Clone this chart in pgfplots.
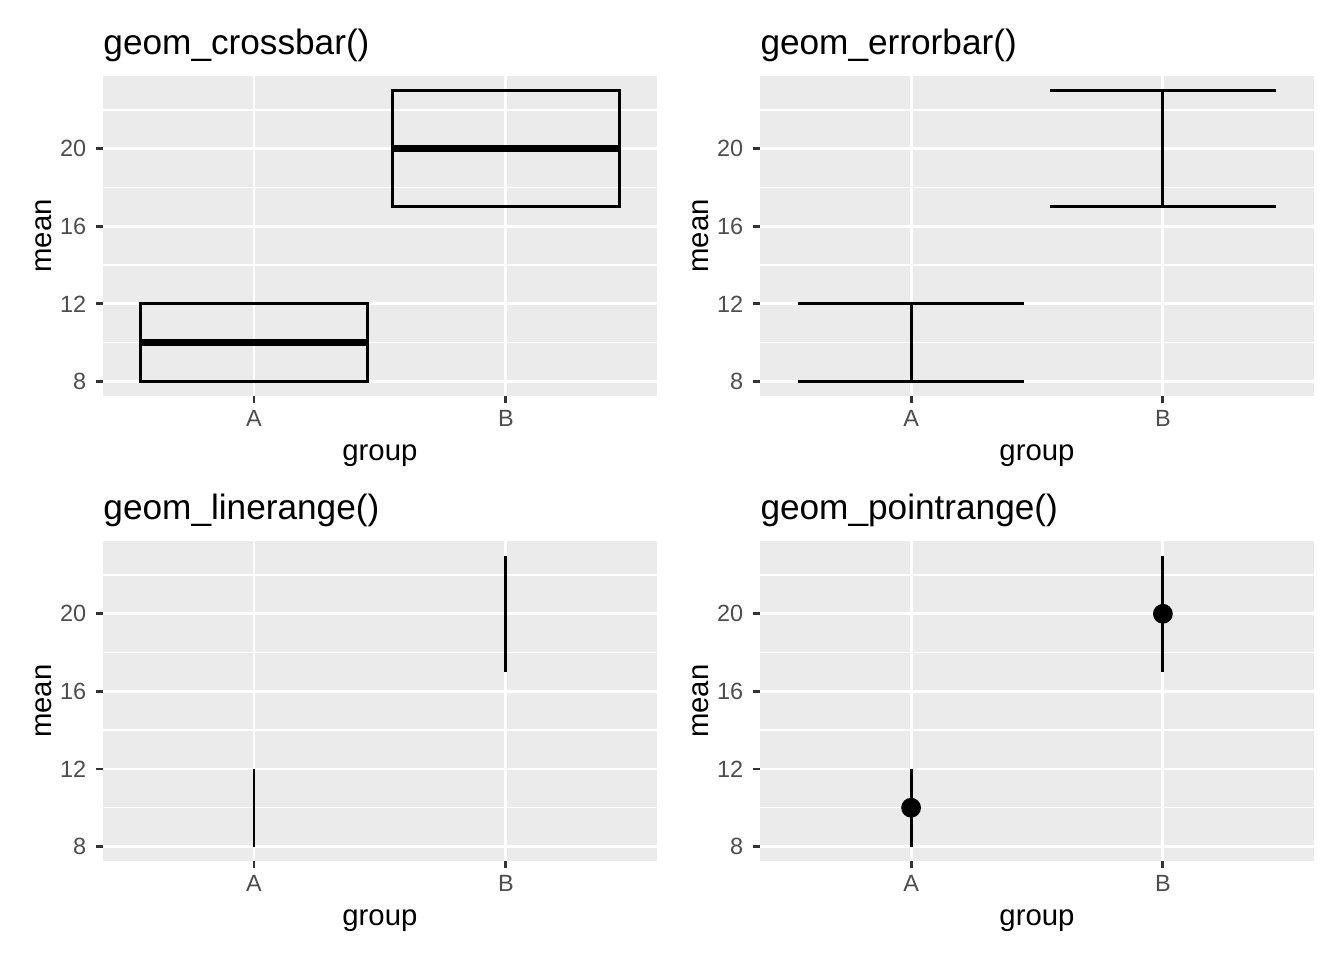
\documentclass[border=0pt]{standalone}
\usepackage{fontspec}
\setmainfont{Liberation Sans}
\usepackage{pgfplots}
\pgfplotsset{compat=1.18}

\definecolor{ggbg}{HTML}{EBEBEB}
\definecolor{gg20}{HTML}{333333}
\definecolor{gg30}{HTML}{4D4D4D}

\pgfplotsset{
  every axis title shift=0pt,
  ggpanel/.style={
    scale only axis, width=207.75pt, height=120pt,
    anchor=north west,
    xmin=0.4, xmax=2.6, ymin=7.25, ymax=23.75,
    axis background/.style={fill=ggbg},
    axis line style={draw=none},
    xtick={1,2}, xticklabels={A,B},
    ytick={8,12,16,20}, minor ytick={10,14,18,22},
    grid=both,
    major grid style={white, line width=1.07pt},
    minor grid style={white, line width=0.53pt},
    tick align=outside, tick pos=left,
    major tick length=2.75pt, minor tick length=0pt,
    tick style={gg20, line width=1.07pt},
    ticklabel style={font=\fontsize{8.8}{10}\selectfont, text=gg30},
    xticklabel style={yshift=0.75pt},
    /pgf/number format/assume math mode=true,
    xlabel=group, ylabel=mean,
    xlabel style={at={(axis description cs:0.5,-0.2025)}, anchor=base, inner sep=0pt,
      font=\fontsize{11}{13}\selectfont},
    ylabel style={at={(axis description cs:-0.0925,0.5)}, anchor=base, inner sep=0pt,
      font=\fontsize{11}{13}\selectfont},
    title style={at={(axis description cs:0,1.066)}, anchor=base west, inner sep=0pt,
      font=\fontsize{13.2}{15}\selectfont},
  },
  gg/.style={black, line width=1.07pt, line cap=butt},
}

\begin{document}
\begin{tikzpicture}
\path[use as bounding box] (0,0) rectangle (504pt,360pt);

% geom_crossbar
\begin{axis}[ggpanel, at={(38.6pt,331.5pt)}, title={geom\_crossbar()}]
\addplot[gg] coordinates {(0.55,8) (1.45,8) (1.45,12) (0.55,12)} -- cycle;
\addplot[gg, line width=2.67pt] coordinates {(0.55,10) (1.45,10)};
\addplot[gg] coordinates {(1.55,17) (2.45,17) (2.45,23) (1.55,23)} -- cycle;
\addplot[gg, line width=2.67pt] coordinates {(1.55,20) (2.45,20)};
\end{axis}

% geom_errorbar
\begin{axis}[ggpanel, at={(285pt,331.5pt)}, title={geom\_errorbar()}]
\addplot[gg] coordinates {(0.55,8) (1.45,8)};
\addplot[gg] coordinates {(0.55,12) (1.45,12)};
\addplot[gg] coordinates {(1,8) (1,12)};
\addplot[gg] coordinates {(1.55,17) (2.45,17)};
\addplot[gg] coordinates {(1.55,23) (2.45,23)};
\addplot[gg] coordinates {(2,17) (2,23)};
\end{axis}

% geom_linerange
\begin{axis}[ggpanel, at={(38.6pt,157.1pt)}, title={geom\_linerange()}]
\addplot[gg] coordinates {(1,8) (1,12)};
\addplot[gg] coordinates {(2,17) (2,23)};
\end{axis}

% geom_pointrange
\begin{axis}[ggpanel, at={(285pt,157.1pt)}, title={geom\_pointrange()}]
\addplot[gg] coordinates {(1,8) (1,12)};
\addplot[gg] coordinates {(2,17) (2,23)};
\addplot[only marks, mark=*, mark size=3.5pt, black] coordinates {(1,10) (2,20)};
\end{axis}
\end{tikzpicture}
\end{document}
